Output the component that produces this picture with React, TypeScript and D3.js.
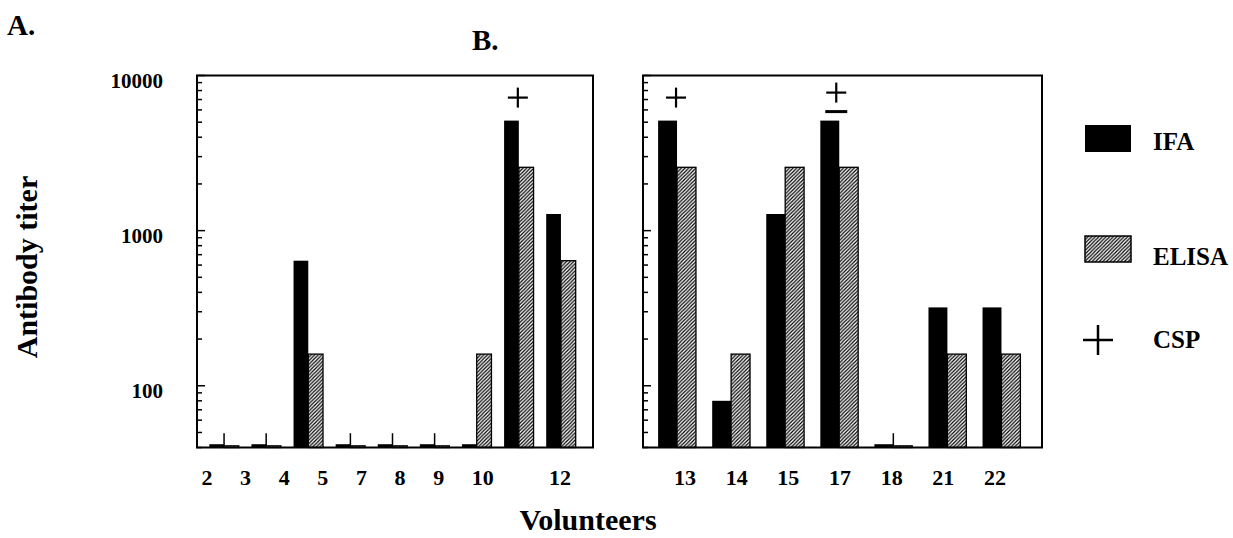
import React, { useRef, useEffect } from 'react';
import * as d3 from 'd3';

// Panel A: volunteers, IFA and ELISA titers (reciprocal dilution), CSP marks
const volunteersA = ['2', '3', '4', '5', '7', '8', '9', '10', '12'];
const ifaA = [42, 42, 640, 42, 42, 42, 42, 5120, 1280];
const elisaA = [41, 41, 160, 41, 41, 41, 160, 2560, 640];
const cspA = ['', '', '', '', '', '', '', '+', ''];
// tick labels of panel A, as typeset (blank slot before 12)
const tickLabelsA = ['2', '3', '4', '5', '7', '8', '9', '10', '', '12'];

// Panel B
const volunteersB = ['13', '14', '15', '17', '18', '21', '22'];
const ifaB = [5120, 80, 1280, 5120, 42, 320, 320];
const elisaB = [2560, 160, 2560, 2560, 41, 160, 160];
const cspB = ['+', '', '', '±', '', '', ''];
const tickLabelsB = ['13', '14', '15', '17', '18', '21', '22'];

const yTickLabels = [100, 1000, 10000];
const legendLabels = ['IFA', 'ELISA', 'CSP'];

const FONT = '"Liberation Serif", "Times New Roman", serif';

const App = () => {
  const svgRef = useRef<SVGSVGElement>(null);

  useEffect(() => {
    const svg = d3.select(svgRef.current);
    svg.selectAll('*').remove();

    // hatch pattern for the ELISA bars
    const pat = svg
      .append('defs')
      .append('pattern')
      .attr('id', 'hatch')
      .attr('patternUnits', 'userSpaceOnUse')
      .attr('width', 3.6)
      .attr('height', 3.6);
    pat.append('rect').attr('width', 3.6).attr('height', 3.6).attr('fill', '#fff');
    pat
      .append('path')
      .attr('d', 'M-0.9,0.9 l1.8,-1.8 M0,3.6 l3.6,-3.6 M2.7,4.5 l1.8,-1.8')
      .attr('stroke', '#000')
      .attr('stroke-width', 1.2);

    // shared log scale for titers
    const yBottom = 447.5;
    const yTop = 75.5;
    const y = d3.scaleLog().domain([40, 10000]).range([yBottom, yTop]);

    const drawPlus = (g, cx, cy, half, sw) => {
      g.append('line')
        .attr('x1', cx - half).attr('x2', cx + half)
        .attr('y1', cy).attr('y2', cy)
        .attr('stroke', '#000').attr('stroke-width', sw);
      g.append('line')
        .attr('x1', cx).attr('x2', cx)
        .attr('y1', cy - half).attr('y2', cy + half)
        .attr('stroke', '#000').attr('stroke-width', sw);
    };

    const drawPanel = (opts) => {
      const { x0, x1, barRange, ids, ifa, elisa, csp, labels, labelRange, anchor, yLabels } = opts;
      const g = svg.append('g');

      const x = d3.scaleBand().domain(ids).range(barRange).paddingInner(0.3).paddingOuter(0.15);
      const sub = d3.scaleBand().domain(['IFA', 'ELISA']).range([0, x.bandwidth()]);

      ids.forEach((id, i) => {
        const bx = x(id);
        // IFA bar
        g.append('rect')
          .attr('x', bx + sub('IFA'))
          .attr('y', y(ifa[i]))
          .attr('width', sub.bandwidth())
          .attr('height', yBottom - y(ifa[i]))
          .attr('fill', '#000');
        // ELISA bar
        g.append('rect')
          .attr('x', bx + sub('ELISA'))
          .attr('y', y(elisa[i]))
          .attr('width', sub.bandwidth())
          .attr('height', yBottom - y(elisa[i]))
          .attr('fill', 'url(#hatch)')
          .attr('stroke', '#000')
          .attr('stroke-width', 1.3);

        const cx = bx + x.bandwidth() / 2;
        // small tick over pairs below the detection limit
        if (ifa[i] < 50 && elisa[i] < 50) {
          g.append('line')
            .attr('x1', cx).attr('x2', cx)
            .attr('y1', y(ifa[i]) - 11).attr('y2', yBottom)
            .attr('stroke', '#000').attr('stroke-width', 1.5);
        }
        // CSP marks
        const top = y(ifa[i]);
        if (csp[i] === '+') drawPlus(g, cx - 1, top - 23, 10, 2.2);
        if (csp[i] === '±') {
          drawPlus(g, cx - 3, top - 28, 10, 2.2);
          g.append('line')
            .attr('x1', cx - 14).attr('x2', cx + 8)
            .attr('y1', top - 9).attr('y2', top - 9)
            .attr('stroke', '#000').attr('stroke-width', 3);
        }
      });

      // frame
      g.append('rect')
        .attr('x', x0)
        .attr('y', yTop)
        .attr('width', x1 - x0)
        .attr('height', yBottom - yTop)
        .attr('fill', 'none')
        .attr('stroke', '#000')
        .attr('stroke-width', 2);

      // log ticks on the left edge, pointing inward
      y.ticks().forEach((t) => {
        const major = Math.abs(Math.log10(t) - Math.round(Math.log10(t))) < 1e-6;
        g.append('line')
          .attr('x1', x0).attr('x2', x0 + (major ? 8 : 5))
          .attr('y1', y(t)).attr('y2', y(t))
          .attr('stroke', '#000').attr('stroke-width', 1.5);
      });

      if (yLabels) {
        yTickLabels.forEach((v) => {
          g.append('text')
            .attr('x', 163)
            .attr('y', y(v) + 12)
            .attr('text-anchor', 'end')
            .style('font-family', FONT)
            .style('font-weight', 'bold')
            .style('font-size', '21px')
            .text(String(v));
        });
      }

      // category labels
      const lx = d3.scalePoint().domain(labels.map((_, i) => String(i))).range(labelRange);
      labels.forEach((lab, i) => {
        if (!lab) return;
        g.append('text')
          .attr('x', lx(String(i)))
          .attr('y', 485)
          .attr('text-anchor', anchor)
          .style('font-family', FONT)
          .style('font-weight', 'bold')
          .style('font-size', '22px')
          .text(lab);
      });
    };

    drawPanel({
      x0: 197, x1: 593, barRange: [203, 582],
      ids: volunteersA, ifa: ifaA, elisa: elisaA, csp: cspA,
      labels: tickLabelsA, labelRange: [201.5, 549], anchor: 'start', yLabels: true,
    });
    drawPanel({
      x0: 643, x1: 1042, barRange: [650, 1028.5],
      ids: volunteersB, ifa: ifaB, elisa: elisaB, csp: cspB,
      labels: tickLabelsB, labelRange: [685, 995], anchor: 'middle', yLabels: false,
    });

    const txt = (x, yy, s, size, anchor = 'start') =>
      svg.append('text')
        .attr('x', x).attr('y', yy)
        .attr('text-anchor', anchor)
        .style('font-family', FONT)
        .style('font-weight', 'bold')
        .style('font-size', `${size}px`)
        .text(s);

    // panel letters and axis titles
    txt(7, 35, 'A.', 29);
    txt(472, 50, 'B.', 29);
    txt(588, 530, 'Volunteers', 30, 'middle');
    txt(-267, 37, 'Antibody titer', 30, 'middle').attr('transform', 'rotate(-90)');

    // legend
    svg.append('rect').attr('x', 1085).attr('y', 125).attr('width', 46).attr('height', 27).attr('fill', '#000');
    txt(1153, 150, legendLabels[0], 25);
    svg.append('rect').attr('x', 1085).attr('y', 236).attr('width', 46).attr('height', 26)
      .attr('fill', 'url(#hatch)').attr('stroke', '#000').attr('stroke-width', 1.5);
    txt(1153, 265, legendLabels[1], 25);
    drawPlus(svg, 1098, 340, 15, 2.5);
    txt(1153, 348, legendLabels[2], 25);
  }, []);

  return (
    <svg
      ref={svgRef}
      width={1233}
      height={538}
      style={{ position: 'absolute', left: 0, top: 0, background: '#fff' }}
    />
  );
};

export default App;
